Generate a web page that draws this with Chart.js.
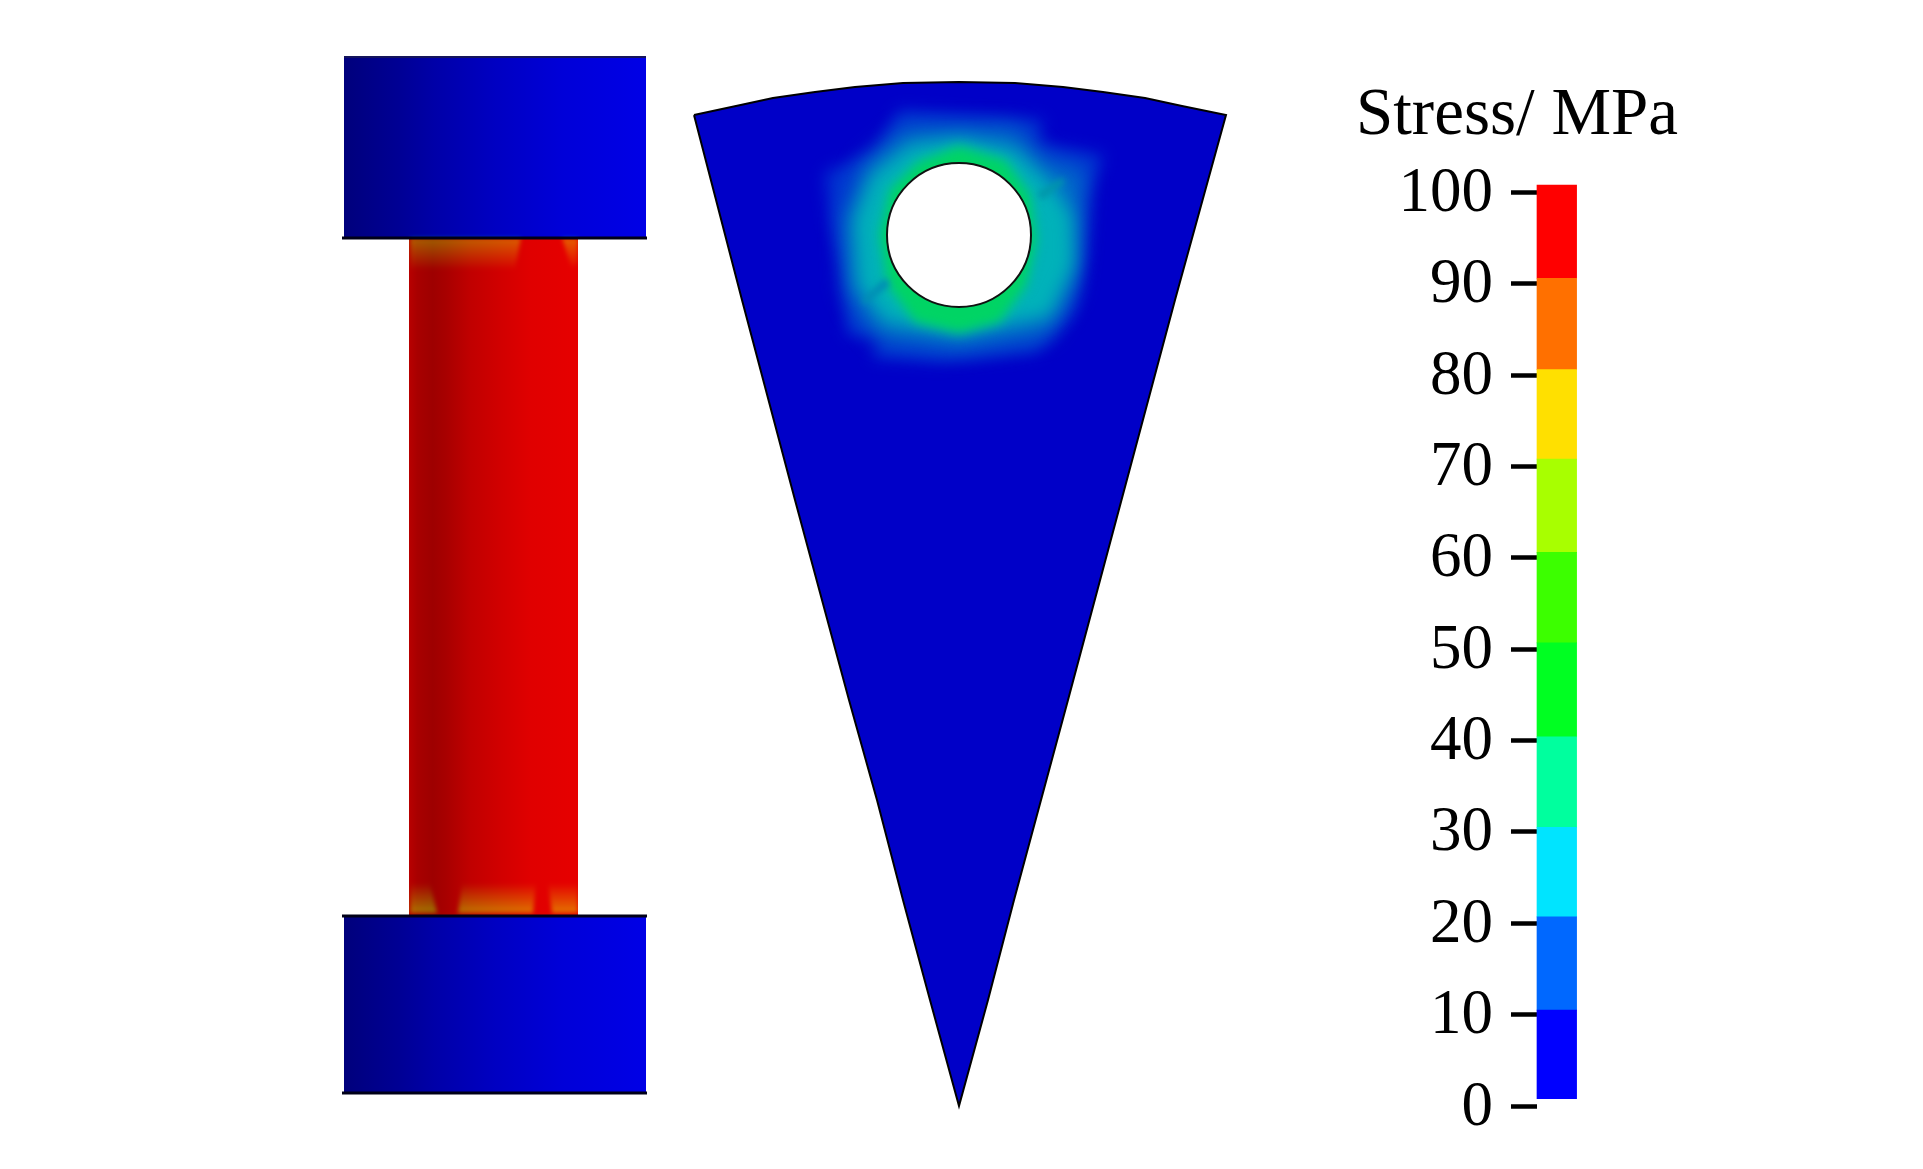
<!DOCTYPE html>
<html>
<head>
<meta charset="utf-8">
<title>Stress</title>
<script src="https://cdn.jsdelivr.net/npm/chart.js@4"></script>
<style>
  html, body { margin: 0; background: #fff; }
  canvas { position: absolute; top: 0; filter: blur(0.6px); }
  #shapes { left: 0; }
  #legend { left: 1299px; }
</style>
</head>
<body>
<canvas id="shapes" width="1923" height="1169"></canvas>
<canvas id="legend" width="436" height="1169"></canvas>
<script>
// colour legend
const legendTitle = 'Stress/ MPa';
const legendBands = ['0-10', '10-20', '20-30', '30-40', '40-50', '50-60', '60-70', '70-80', '80-90', '90-100'];
const bandLow = [0.8, 10.5, 20.7, 30.5, 40.4, 50.7, 60.6, 70.8, 80.6, 90.6];
const bandHigh = [10.5, 20.7, 30.5, 40.4, 50.7, 60.6, 70.8, 80.6, 90.6, 100.8];
const bandColors = ['#0000ff', '#0068ff', '#00e4ff', '#00ff9e', '#00ff22', '#3cff00', '#a8ff00', '#ffe000', '#ff7000', '#ff0000'];
// only the first slot holds the bar, the empty ones leave room for the title
const legendSlots = ['Stress', '', '', '', ''];

// specimen outlines, in picture units
const blockX = [344, 646, 646, 344, 344];
const topBlockY = [57, 57, 238, 238, 57];
const bottomBlockY = [916, 916, 1093, 1093, 916];
const neckX = [409, 578, 578, 409, 409];
const neckY = [238, 238, 916, 916, 238];

const topPatchAX = [410, 521, 515, 410];
const topPatchAY = [238, 238, 270, 270];
const topPatchBX = [562, 578, 578, 572];
const topPatchBY = [238, 238, 262, 270];
const bottomPatchAX = [410, 437, 430, 410];
const bottomPatchBX = [458, 533, 536, 462];
const bottomPatchCX = [552, 578, 578, 548];
const bottomPatchY = [913, 913, 883, 883];

const sectorX = [694, 736, 773, 815, 855, 903, 959, 1015, 1063, 1103, 1145, 1182, 1226, 1175, 1068, 1041, 1014, 988, 959, 930, 903, 877, 849, 795, 742, 694];
const sectorY = [115, 106, 98, 92, 87, 83, 82, 83, 87, 92, 98, 106, 115, 300, 700, 800, 900, 1000, 1106, 1000, 900, 800, 700, 500, 300, 115];

const holeX = [959];
const holeY = [235];

// contour bands round the hole
const haloOuterX = [899, 1044, 1037, 1104, 1089, 1085, 1074, 1037, 940, 871, 881, 847, 844, 830, 825, 877];
const haloOuterY = [110, 120, 143, 155, 193, 260, 313, 353, 362, 358, 337, 335, 277, 220, 173, 150];
const haloMidX = [905, 1015, 1045, 1085, 1080, 1074, 1048, 959, 880, 862, 846, 843, 862];
const haloMidY = [128, 128, 160, 170, 235, 290, 335, 350, 340, 320, 290, 220, 165];
const haloCyanX = [959, 1015, 1052, 1072, 1074, 1050, 959, 885, 858, 854, 872, 910];
const haloCyanY = [138, 150, 185, 215, 265, 316, 334, 322, 285, 220, 175, 145];
const haloGreenX = [959, 1005, 1030, 1036, 1026, 1000, 959, 915, 888, 880, 890, 918];
const haloGreenY = [146, 160, 195, 240, 285, 322, 333, 322, 285, 235, 190, 162];
const slitUpperX = [1037, 1062, 1065, 1042];
const slitUpperY = [193, 178, 182, 200];
const slitLowerX = [885, 862, 865, 890];
const slitLowerY = [278, 300, 304, 285];

const blockStops = [[0, '#00007c'], [0.18, '#000094'], [0.3, '#0000a8'], [0.5, '#0000c2'], [0.72, '#0000d8'], [1, '#0000e6']];
const neckStops = [[0, '#b80000'], [0.05, '#a80000'], [0.14, '#9e0000'], [0.22, '#a80000'], [0.36, '#c00000'], [0.55, '#d20000'], [0.72, '#e00000'], [1, '#e60000']];

const points = (xs, ys) => xs.map((x, i) => ({ x, y: ys[i] }));

function region(xs, ys, paint, extra) {
  return Object.assign({
    data: points(xs, ys),
    paint,
    showLine: true,
    borderWidth: 0,
    pointRadius: 0,
    tension: 0,
  }, extra);
}

function edge(xs, y, color, width) {
  return {
    data: points(xs, [y, y]),
    showLine: true,
    borderColor: color,
    borderWidth: width,
    pointRadius: 0,
  };
}

function gradient(chart, axis, from, to, stops) {
  const s = chart.scales[axis];
  const g = axis === 'x'
    ? chart.ctx.createLinearGradient(s.getPixelForValue(from), 0, s.getPixelForValue(to), 0)
    : chart.ctx.createLinearGradient(0, s.getPixelForValue(from), 0, s.getPixelForValue(to));
  stops.forEach(([p, c]) => g.addColorStop(p, c));
  return g;
}

const blockPaint = (chart) => gradient(chart, 'x', 344, 646, blockStops);
const neckPaint = (chart) => gradient(chart, 'x', 409, 578, neckStops);
const topGlow = (chart) => gradient(chart, 'y', 238, 270, [[0, 'rgb(0,95,0)'], [1, 'rgb(0,0,0)']]);
const bottomGlow = (chart) => gradient(chart, 'y', 913, 883, [[0, 'rgb(0,115,0)'], [1, 'rgb(0,0,0)']]);

// fills the closed outline of a dataset, before its line is drawn
const regionFill = {
  id: 'regionFill',
  beforeDraw(chart) {
    // 'lighter' needs an opaque page under it
    chart.ctx.save();
    chart.ctx.fillStyle = '#fff';
    chart.ctx.fillRect(0, 0, chart.width, chart.height);
    chart.ctx.restore();
  },
  beforeDatasetDraw(chart, args) {
    const ds = chart.data.datasets[args.index];
    if (!ds.paint) return;
    const ctx = chart.ctx;
    ctx.save();
    if (ds.blur) ctx.filter = `blur(${ds.blur}px)`;
    if (ds.mode) ctx.globalCompositeOperation = ds.mode;
    ctx.fillStyle = typeof ds.paint === 'function' ? ds.paint(chart) : ds.paint;
    ctx.beginPath();
    args.meta.data.forEach((pt, i) => (i ? ctx.lineTo(pt.x, pt.y) : ctx.moveTo(pt.x, pt.y)));
    ctx.closePath();
    ctx.fill();
    ctx.restore();
  },
};

// listed back to front, reversed below because Chart.js draws the first dataset last
const layers = [
  region(blockX, topBlockY, blockPaint),
  region(blockX, bottomBlockY, blockPaint),
  region(neckX, neckY, neckPaint),
  region(topPatchAX, topPatchAY, topGlow, { mode: 'lighter', blur: 2 }),
  region(topPatchBX, topPatchBY, topGlow, { mode: 'lighter', blur: 2 }),
  region(bottomPatchAX, bottomPatchY, bottomGlow, { mode: 'lighter', blur: 2 }),
  region(bottomPatchBX, bottomPatchY, bottomGlow, { mode: 'lighter', blur: 2 }),
  region(bottomPatchCX, bottomPatchY, bottomGlow, { mode: 'lighter', blur: 2 }),
  edge([344, 646], 57, '#14145c', 2),
  edge([342, 647], 238, '#000018', 3),
  edge([342, 647], 916, '#000018', 3),
  edge([342, 647], 1093, '#000018', 3),
  region(sectorX, sectorY, '#0000c8', { borderColor: '#000', borderWidth: 2 }),
  region(haloOuterX, haloOuterY, 'rgb(0,50,208)', { blur: 8 }),
  region(haloMidX, haloMidY, 'rgb(0,110,200)', { blur: 11 }),
  region(haloCyanX, haloCyanY, 'rgb(0,178,185)', { blur: 9 }),
  region(haloGreenX, haloGreenY, 'rgb(0,212,100)', { blur: 6 }),
  region(slitUpperX, slitUpperY, 'rgb(0,150,170)', { blur: 3 }),
  region(slitLowerX, slitLowerY, 'rgb(0,140,180)', { blur: 3 }),
  {
    data: points(holeX, holeY),
    pointRadius: 72,
    pointBackgroundColor: '#fff',
    pointBorderColor: '#111',
    pointBorderWidth: 2,
  },
];

new Chart(document.getElementById('shapes'), {
  type: 'scatter',
  data: { datasets: layers.reverse() },
  options: {
    responsive: false,
    animation: false,
    layout: { padding: 0, autoPadding: false },
    plugins: { legend: { display: false }, tooltip: { enabled: false } },
    scales: {
      x: { display: false, min: 0, max: 1923 },
      y: { display: false, min: 0, max: 1169, reverse: true },
    },
  },
  plugins: [regionFill],
});

new Chart(document.getElementById('legend'), {
  type: 'bar',
  data: {
    labels: legendSlots,
    datasets: legendBands.map((label, i) => ({
      label,
      data: [[bandLow[i], bandHigh[i]]],
      backgroundColor: bandColors[i],
      barPercentage: 1,
      categoryPercentage: 1,
      grouped: false,
      clip: false,
    })),
  },
  options: {
    responsive: false,
    animation: false,
    layout: { padding: { bottom: 63 }, autoPadding: false },
    plugins: {
      legend: { display: false },
      tooltip: { enabled: false },
      title: {
        display: true,
        text: legendTitle,
        color: '#000',
        font: { family: '"Liberation Serif"', size: 67, weight: 'normal', lineHeight: 1.2 },
        padding: { top: 76, bottom: 36 },
      },
    },
    scales: {
      x: { display: false },
      y: {
        min: 0,
        max: 100,
        afterFit(scale) { scale.width = 238; },
        border: { display: false },
        grid: { drawOnChartArea: false, tickLength: 26, tickWidth: 4.5, tickColor: '#000' },
        ticks: {
          stepSize: 10,
          padding: 18,
          labelOffset: 2,
          color: '#000',
          font: { family: '"Liberation Serif"', size: 63 },
        },
      },
    },
  },
});
</script>
</body>
</html>
